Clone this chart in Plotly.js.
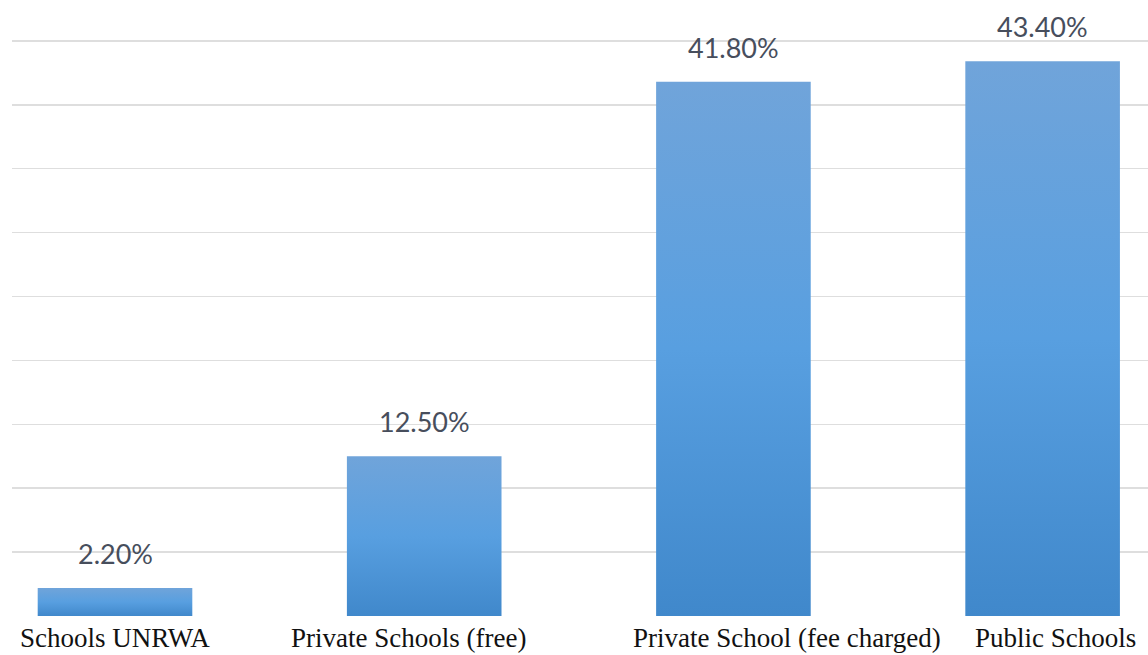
<!DOCTYPE html>
<html>
<head>
<meta charset="utf-8">
<script src="https://cdn.plot.ly/plotly-3.0.1.min.js"></script>
<style>
html,body{margin:0;padding:0;background:#fff;}
#chart{width:1148px;height:655px;}
</style>
</head>
<body>
<div id="chart"></div>
<script>
// ---- data ----
const categories = ["Schools UNRWA", "Private Schools (free)", "Private School (fee charged)", "Public Schools"];
const values = [2.2, 12.5, 41.8, 43.4];
const valueLabels = ["2.20%", "12.50%", "41.80%", "43.40%"];

// ---- style (label offsets in category units) ----
const tickLabelOffsets = [0, -0.052, 0.172, 0.042];

const idx = categories.map((c, i) => i);

const trace = {
  type: "bar",
  x: idx,
  y: values,
  width: 0.5,
  marker: {color: "#579ee0", line: {width: 0}},
  hoverinfo: "skip"
};

const annotations = [];
values.forEach((v, i) => {
  annotations.push({
    x: i, y: v, xref: "x", yref: "y",
    text: valueLabels[i], showarrow: false,
    yanchor: "bottom", xanchor: "center", yshift: 16,
    font: {family: "Lato, 'Open Sans', sans-serif", size: 27, color: "#474e5c"}
  });
});
categories.forEach((c, i) => {
  annotations.push({
    x: i + tickLabelOffsets[i], y: 0, xref: "x", yref: "paper",
    text: c, showarrow: false,
    yanchor: "top", xanchor: "center", yshift: -5,
    font: {family: "'Liberation Serif', 'Times New Roman', serif", size: 27, color: "#111111"}
  });
});

const layout = {
  width: 1148, height: 655,
  margin: {l: 12, r: 0, t: 2, b: 39},
  paper_bgcolor: "#ffffff", plot_bgcolor: "#ffffff",
  showlegend: false,
  xaxis: {
    range: [-0.3331, 3.3408],
    showgrid: false, zeroline: false, showticklabels: false, ticks: "", showline: false
  },
  yaxis: {
    range: [0, 48.04], dtick: 5, tick0: 0,
    showgrid: true, gridcolor: "#dedede", gridwidth: 1.5,
    zeroline: false, showticklabels: false, ticks: "", showline: false
  },
  annotations: annotations
};

Plotly.newPlot("chart", [trace], layout, {staticPlot: true, displayModeBar: false}).then(gd => {
  const svg = gd.querySelector("svg.main-svg");
  const ns = "http://www.w3.org/2000/svg";
  let defs = svg.querySelector("defs");
  if (!defs) { defs = document.createElementNS(ns, "defs"); svg.insertBefore(defs, svg.firstChild); }
  const g = document.createElementNS(ns, "linearGradient");
  g.setAttribute("id", "barGrad");
  g.setAttribute("x1", "0"); g.setAttribute("y1", "0");
  g.setAttribute("x2", "0"); g.setAttribute("y2", "1");
  [["0", "#70a4da"], ["0.5", "#589fe0"], ["1", "#4088cb"]].forEach(([o, c]) => {
    const s = document.createElementNS(ns, "stop");
    s.setAttribute("offset", o); s.setAttribute("stop-color", c);
    g.appendChild(s);
  });
  defs.appendChild(g);
  gd.querySelectorAll(".barlayer .point path").forEach(p => { p.style.fill = "url(#barGrad)"; });
});
</script>
</body>
</html>
